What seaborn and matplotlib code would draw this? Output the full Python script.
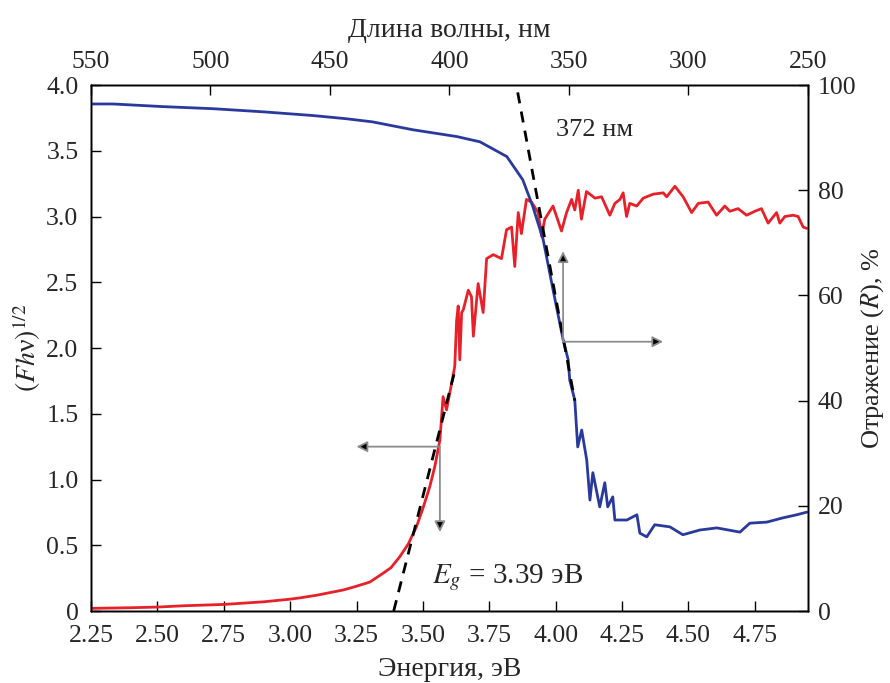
import numpy as np
import pandas as pd
import matplotlib
matplotlib.use('Agg')
import matplotlib.pyplot as plt
import seaborn as sns

# Kubelka-Munk function (left axis), red curve
energy_f = [2.25, 2.40, 2.50, 2.60, 2.75, 2.90, 3.00, 3.037, 3.10, 3.20, 3.244, 3.30, 3.35, 3.38,
            3.413, 3.445, 3.476, 3.50, 3.526, 3.545, 3.564, 3.576, 3.589, 3.608, 3.62, 3.627,
            3.633, 3.639, 3.646, 3.652, 3.671, 3.683, 3.69, 3.708, 3.727, 3.74, 3.765, 3.796,
            3.815, 3.834, 3.846, 3.859, 3.871, 3.89, 3.909, 3.934, 3.947, 3.959, 3.99, 4.022,
            4.041, 4.06, 4.072, 4.085, 4.097, 4.116, 4.148, 4.173, 4.204, 4.223, 4.242, 4.254,
            4.267, 4.279, 4.305, 4.33, 4.367, 4.405, 4.418, 4.449, 4.48, 4.512, 4.537, 4.574,
            4.606, 4.637, 4.656, 4.687, 4.719, 4.75, 4.775, 4.80, 4.832, 4.844, 4.863, 4.894,
            4.913, 4.932, 4.945]
fhv = [0.02, 0.025, 0.03, 0.04, 0.05, 0.07, 0.09, 0.10, 0.12, 0.16, 0.185, 0.22, 0.287, 0.33,
       0.413, 0.51, 0.642, 0.78, 0.946, 1.10, 1.30, 1.63, 1.53, 1.73, 1.86, 2.21,
       2.32, 1.91, 2.27, 2.29, 2.44, 2.39, 2.09, 2.49, 2.27, 2.68, 2.71, 2.68,
       2.90, 2.92, 2.62, 3.03, 2.87, 3.13, 3.11, 3.03, 2.85, 2.98, 3.08, 2.89,
       3.03, 3.13, 3.05, 3.20, 2.98, 3.19, 3.14, 3.15, 3.01, 3.10, 3.13, 3.18,
       3.00, 3.10, 3.08, 3.14, 3.17, 3.18, 3.15, 3.23, 3.15, 3.03, 3.10, 3.11,
       3.01, 3.08, 3.04, 3.06, 3.01, 3.04, 3.06, 2.95, 3.03, 2.95, 3.00, 3.01,
       3.00, 2.92, 2.91]

# Reflectance (right axis), blue curve
energy_r = [2.25, 2.333, 2.52, 2.71, 2.90, 3.086, 3.21, 3.31, 3.462, 3.628, 3.715, 3.816, 3.876,
            3.914, 3.953, 3.99, 4.028, 4.047, 4.053, 4.065, 4.072, 4.083, 4.098, 4.117, 4.129,
            4.14, 4.166, 4.185, 4.196, 4.215, 4.223, 4.268, 4.306, 4.317, 4.343, 4.373, 4.43,
            4.479, 4.543, 4.607, 4.694, 4.731, 4.795, 4.855, 4.908, 4.946]
refl = [96.4, 96.4, 95.9, 95.5, 94.9, 94.2, 93.6, 93.0, 91.5, 90.2, 89.2, 86.4, 82.0,
        76.9, 70.6, 61.1, 51.6, 47.8, 43.9, 41.5, 40.1, 31.2, 34.4, 28.7, 21.1,
        26.3, 19.8, 24.4, 19.8, 21.7, 17.3, 17.3, 18.3, 14.8, 14.1, 16.4, 16.0,
        14.5, 15.4, 15.8, 15.0, 16.7, 16.9, 17.7, 18.3, 18.8]

# tangent lines
eg_line_e = [3.39, 3.617]
eg_line_f = [0.0, 1.80]
edge_line_e = [3.857, 4.072]
edge_line_r = [98.6, 40.0]

energy_ticks = [2.25, 2.50, 2.75, 3.00, 3.25, 3.50, 3.75, 4.00, 4.25, 4.50, 4.75]
f_ticks = [0, 0.5, 1.0, 1.5, 2.0, 2.5, 3.0, 3.5, 4.0]
f_labels = ['0', '0.5', '1.0', '1.5', '2.0', '2.5', '3.0', '3.5', '4.0']
r_ticks = [0, 20, 40, 60, 80, 100]
wl_ticks = [550, 500, 450, 400, 350, 300, 250]

sns.set_style('ticks')
plt.rcParams['font.family'] = ['Liberation Serif', 'DejaVu Serif']
plt.rcParams['mathtext.fontset'] = 'stix'
plt.rcParams['xtick.direction'] = 'in'
plt.rcParams['ytick.direction'] = 'in'

red = '#e8202a'
blue = '#2a3a9c'
fs = 18.5    # tick labels
lfs = 20     # axis titles

fig = plt.figure(figsize=(8.9, 6.83), dpi=100)
ax = fig.add_axes([0.1022, 0.1054, 0.8056, 0.7701])
ax2 = ax.twinx()
ax3 = ax.twiny()

df_f = pd.DataFrame({'E': energy_f, 'F': fhv})
df_r = pd.DataFrame({'E': energy_r, 'R': refl})

sns.lineplot(data=df_r, x='E', y='R', ax=ax2, color=blue, lw=2.0, sort=False)
sns.lineplot(x=edge_line_e, y=edge_line_r, ax=ax2, color='black', lw=2.0,
             linestyle=(0, (4, 3)))
sns.lineplot(data=df_f, x='E', y='F', ax=ax, color=red, lw=2.0, sort=False)
sns.lineplot(x=eg_line_e, y=eg_line_f, ax=ax, color='black', lw=2.0,
             linestyle=(0, (4, 3)))

arrow_kw = dict(arrowstyle='-|>', ec='0.55', fc='black', lw=1.3, mutation_scale=16,
                shrinkA=0, shrinkB=0)
ax.annotate('', xy=(3.25, 1.25), xytext=(3.564, 1.25), arrowprops=arrow_kw)
ax.annotate('', xy=(3.564, 0.60), xytext=(3.564, 1.25), arrowprops=arrow_kw)
ax2.annotate('', xy=(4.028, 68.4), xytext=(4.028, 51.2), arrowprops=arrow_kw)
ax2.annotate('', xy=(4.405, 51.2), xytext=(4.028, 51.2), arrowprops=arrow_kw)

ax.text(3.533, 0.25, r'$E_g$ = 3.39 эВ', fontsize=21, ha='left', va='center')
ax2.text(4.003, 91.5, '372 нм', fontsize=19, ha='left', va='center')

ax.set_xlim(2.25, 4.95)
ax.set_ylim(0, 4.0)
ax2.set_ylim(0, 100)
ax3.set_xlim(550, 250)

ax.set_xticks(energy_ticks)
ax.set_xticklabels([f'{t:.2f}' for t in energy_ticks])
ax.set_yticks(f_ticks)
ax.set_yticklabels(f_labels)
ax2.set_yticks(r_ticks)
ax2.set_yticklabels([str(t) for t in r_ticks])
ax3.set_xticks(wl_ticks)
ax3.set_xticklabels([str(t) for t in wl_ticks])

for a in (ax, ax2, ax3):
    a.tick_params(labelsize=fs, length=7, width=1, color='black', pad=6)
    for s in a.spines.values():
        s.set_linewidth(1.0)
        s.set_color('black')
ax.tick_params(axis='x', pad=10)
ax3.tick_params(axis='x', pad=9)
ax.tick_params(axis='y', pad=9)
ax2.tick_params(axis='y', pad=7)

ax.set_xlabel('Энергия, эВ', fontsize=lfs, labelpad=7)
ax.set_ylabel(r'$(Fh$ν$)^{1/2}$', fontsize=lfs, labelpad=2)
ax2.set_ylabel(r'Отражение ($R$), %', fontsize=19, labelpad=2)
ax3.set_xlabel('Длина волны, нм', fontsize=lfs, labelpad=10)

fig.savefig('out.png', dpi=100)
